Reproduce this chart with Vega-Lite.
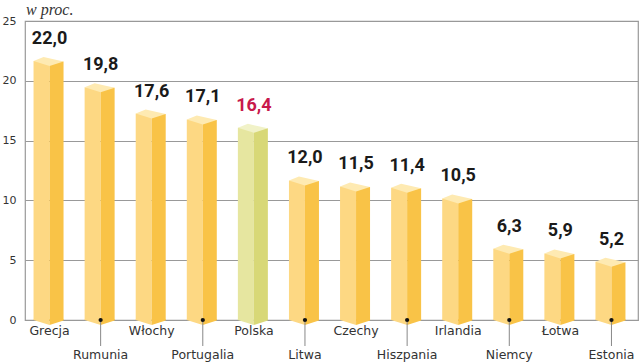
{
  "$schema": "https://vega.github.io/schema/vega-lite/v6.json",
  "width": 613,
  "height": 299,
  "autosize": "none",
  "padding": {"left": 25, "top": 21, "right": 2, "bottom": 42},
  "background": "white",
  "title": {"text": "w proc.", "anchor": "start", "frame": "group", "font": "Liberation Serif", "fontStyle": "italic", "fontWeight": "normal", "fontSize": 16, "color": "#333333", "offset": 5, "dx": 1, "dy": 8},
  "config": {
    "view": {"stroke": "#999999", "strokeWidth": 1.2},
    "axis": {"labelFont": "DejaVu Sans", "labelColor": "#333333"}
  },
  "data": {"values": [
    {"country": "Grecja", "value": 22.0, "label": "22,0"},
    {"country": "Rumunia", "value": 19.8, "label": "19,8"},
    {"country": "Włochy", "value": 17.6, "label": "17,6"},
    {"country": "Portugalia", "value": 17.1, "label": "17,1"},
    {"country": "Polska", "value": 16.4, "label": "16,4"},
    {"country": "Litwa", "value": 12.0, "label": "12,0"},
    {"country": "Czechy", "value": 11.5, "label": "11,5"},
    {"country": "Hiszpania", "value": 11.4, "label": "11,4"},
    {"country": "Irlandia", "value": 10.5, "label": "10,5"},
    {"country": "Niemcy", "value": 6.3, "label": "6,3"},
    {"country": "Łotwa", "value": 5.9, "label": "5,9"},
    {"country": "Estonia", "value": 5.2, "label": "5,2"}
  ]},
  "encoding": {
    "x": {"field": "country", "type": "nominal", "sort": null, "axis": null, "scale": {"paddingInner": 0, "paddingOuter": 0}}
  },
  "layer": [
    {
      "mark": {"type": "bar", "width": 16, "xOffset": -9, "yOffset": 4},
      "encoding": {
        "y": {"field": "value", "type": "quantitative", "scale": {"domain": [0, 25], "nice": false},
          "axis": {"values": [0, 5, 10, 15, 20, 25], "title": null, "grid": true, "gridColor": "#999999", "gridWidth": 1.2, "domain": false, "ticks": false, "labelPadding": 9, "labelFontSize": 11}},
        "y2": {"datum": 0},
        "color": {"condition": {"test": "datum.country === 'Polska'", "value": "#e6e6a0"}, "value": "#fdd883"}
      }
    },
    {
      "mark": {"type": "bar", "width": 14, "xOffset": 6, "yOffset": 4.5},
      "encoding": {
        "y": {"field": "value", "type": "quantitative"},
        "y2": {"datum": 0},
        "color": {"condition": {"test": "datum.country === 'Polska'", "value": "#d8d877"}, "value": "#f9c347"}
      }
    },
    {
      "mark": {"type": "point", "filled": true, "opacity": 1, "strokeWidth": 0, "size": 1600, "shape": "M-0.35,0 L0.65,0.225 L-0.05,0.45 L-0.85,0.2 Z"},
      "encoding": {
        "y": {"field": "value", "type": "quantitative"},
        "color": {"condition": {"test": "datum.country === 'Polska'", "value": "#f1f2c8"}, "value": "#feeab2"}
      }
    },
    {
      "mark": {"type": "point", "filled": true, "opacity": 1, "strokeWidth": 0, "size": 1600, "shape": "M-0.85,-0.05 L-0.05,-0.05 L-0.05,0.25 L-0.85,0 Z"},
      "encoding": {
        "y": {"datum": 0},
        "color": {"condition": {"test": "datum.country === 'Polska'", "value": "#e6e6a0"}, "value": "#fdd883"}
      }
    },
    {
      "mark": {"type": "point", "filled": true, "opacity": 1, "strokeWidth": 0, "size": 1600, "shape": "M-0.05,-0.05 L0.65,-0.05 L0.65,0.02 L-0.05,0.25 Z"},
      "encoding": {
        "y": {"datum": 0},
        "color": {"condition": {"test": "datum.country === 'Polska'", "value": "#d8d877"}, "value": "#f9c347"}
      }
    },
    {
      "mark": {"type": "text", "font": "Roboto", "fontWeight": "bold", "fontSize": 18, "dy": -13, "dx": -1, "baseline": "alphabetic"},
      "encoding": {
        "y": {"field": "value", "type": "quantitative"},
        "text": {"field": "label"},
        "color": {"condition": {"test": "datum.country === 'Polska'", "value": "#c8194c"}, "value": "#1a1a1a"}
      }
    },
    {
      "transform": [{"filter": {"field": "country", "oneOf": ["Grecja", "Włochy", "Polska", "Czechy", "Irlandia", "Łotwa"]}}],
      "mark": {"type": "text", "font": "DejaVu Sans", "fontSize": 12.5, "dy": 15, "dx": -1, "baseline": "alphabetic", "color": "#333333"},
      "encoding": {"y": {"datum": 0}, "text": {"field": "country"}}
    },
    {
      "transform": [{"filter": {"field": "country", "oneOf": ["Rumunia", "Portugalia", "Litwa", "Hiszpania", "Niemcy", "Estonia"]}}],
      "layer": [
        {"mark": {"type": "rule", "color": "#888888", "strokeWidth": 1, "xOffset": -1, "y2Offset": 26}, "encoding": {"y": {"datum": 0}, "y2": {"datum": 0}}},
        {"mark": {"type": "point", "filled": true, "opacity": 1, "color": "#111111", "size": 18, "xOffset": -1}, "encoding": {"y": {"datum": 0}}},
        {"mark": {"type": "text", "font": "DejaVu Sans", "fontSize": 12.5, "dy": 39, "dx": -1, "baseline": "alphabetic", "color": "#333333"}, "encoding": {"y": {"datum": 0}, "text": {"field": "country"}}}
      ]
    }
  ]
}
